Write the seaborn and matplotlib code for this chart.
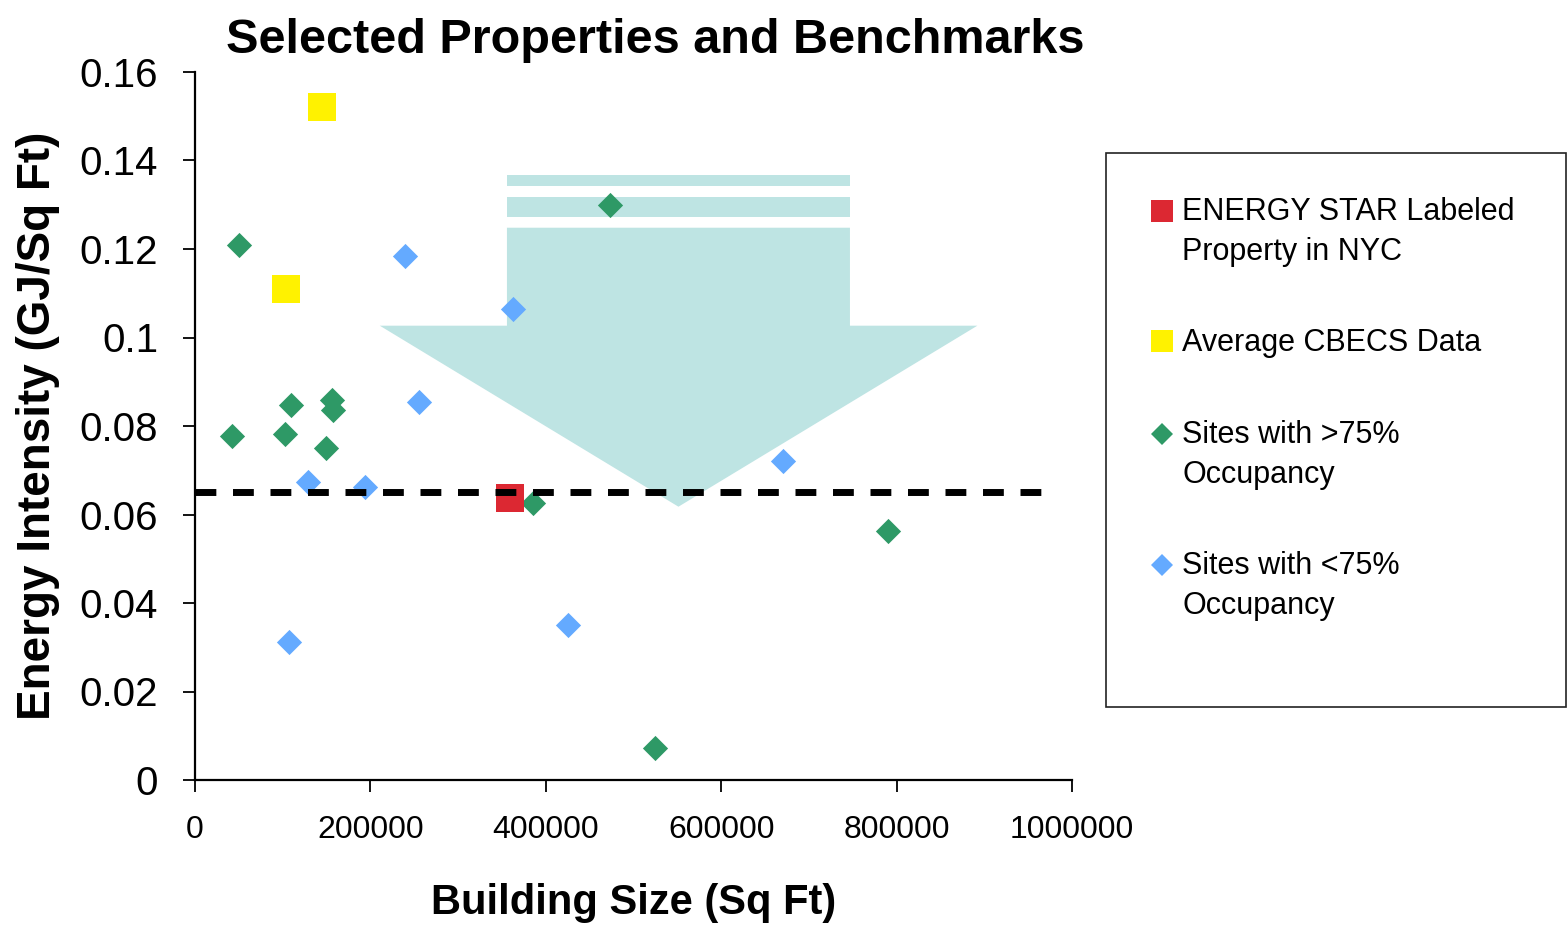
import numpy as np
import pandas as pd
import matplotlib
matplotlib.use("Agg")
import matplotlib.pyplot as plt
from matplotlib import font_manager as fm
from matplotlib.lines import Line2D
from matplotlib.patches import Polygon, Rectangle
from matplotlib.legend_handler import HandlerLine2D
import seaborn as sns

# ---------------------------------------------------------------- data
energy_star_size = [358800]
energy_star_intensity = [0.0637]

cbecs_size = [144300, 104000]
cbecs_intensity = [0.152, 0.1109]

high_occ_size = [50500, 473500, 109300, 155700, 156800, 41800, 102500,
                 149200, 385300, 789700, 524700]
high_occ_intensity = [0.1209, 0.1299, 0.0847, 0.0859, 0.0836, 0.0778, 0.0782,
                      0.0750, 0.0627, 0.0563, 0.0072]

low_occ_size = [239500, 362500, 255100, 129000, 194000, 107000, 425200, 670000]
low_occ_intensity = [0.1184, 0.1064, 0.0854, 0.0674, 0.0663, 0.0312, 0.0350,
                     0.0722]

benchmark_intensity = 0.065
benchmark_span = [0, 968000]

x_ticks = [0, 200000, 400000, 600000, 800000, 1000000]
x_tick_labels = ["0", "200000", "400000", "600000", "800000", "1000000"]
y_ticks = [0, 0.02, 0.04, 0.06, 0.08, 0.10, 0.12, 0.14, 0.16]
y_tick_labels = ["0", "0.02", "0.04", "0.06", "0.08", "0.1", "0.12", "0.14", "0.16"]

series_labels = ["ENERGY STAR Labeled\nProperty in NYC",
                 "Average CBECS Data",
                 "Sites with >75%\nOccupancy",
                 "Sites with <75%\nOccupancy"]

# ---------------------------------------------------------------- style
RED = "#DC2832"
YELLOW = "#FFF200"
GREEN = "#2E9966"
BLUE = "#64AAFF"
TEAL = "#BEE4E3"

sns.set_style("ticks")
installed = {f.name for f in fm.fontManager.ttflist}
BASE = "Liberation Sans" if "Liberation Sans" in installed else "DejaVu Sans"
NARROW = "Liberation Sans Narrow" if "Liberation Sans Narrow" in installed else BASE
plt.rcParams["font.family"] = [BASE, "DejaVu Sans"]
plt.rcParams["text.color"] = "black"
plt.rcParams["axes.labelcolor"] = "black"
plt.rcParams["xtick.color"] = "black"
plt.rcParams["ytick.color"] = "black"

W, H = 1568, 926
fig = plt.figure(figsize=(W / 100, H / 100), dpi=100)
ax = fig.add_axes([195 / W, 1 - 780 / H, 877 / W, 708 / H])
ax.set_facecolor("white")

# downward arrow behind the points (two bands above the shaft)
shaft_x = [355700, 746800]
head_x = [210700, 551250, 892100]
band_y = [(0.13431, 0.13672), (0.1273, 0.13182)]
shaft_top, head_base, head_tip = 0.12481, 0.10267, 0.06176
for y0, y1 in band_y:
    ax.add_patch(Rectangle((shaft_x[0], y0), shaft_x[1] - shaft_x[0], y1 - y0,
                           facecolor=TEAL, edgecolor="none", zorder=1))
ax.add_patch(Polygon([(shaft_x[0], shaft_top), (shaft_x[1], shaft_top),
                      (shaft_x[1], head_base), (head_x[2], head_base),
                      (head_x[1], head_tip), (head_x[0], head_base),
                      (shaft_x[0], head_base)],
                     closed=True, facecolor=TEAL, edgecolor="none", zorder=1))

# scatter series
diamond_s = 165
square_s = 430
sns.scatterplot(x=high_occ_size, y=high_occ_intensity, ax=ax, marker="D",
                s=diamond_s, color=GREEN, linewidth=0, zorder=3, legend=False)
sns.scatterplot(x=low_occ_size, y=low_occ_intensity, ax=ax, marker="D",
                s=diamond_s, color=BLUE, linewidth=0, zorder=3, legend=False)
sns.scatterplot(x=cbecs_size, y=cbecs_intensity, ax=ax, marker="s",
                s=square_s, color=YELLOW, linewidth=0, zorder=3, legend=False)
sns.scatterplot(x=energy_star_size, y=energy_star_intensity, ax=ax, marker="s",
                s=square_s, color=RED, linewidth=0, zorder=3, legend=False)

# benchmark line
ax.hlines(benchmark_intensity, benchmark_span[0], benchmark_span[1],
          colors="black", linewidth=5, linestyles=(0, (3.0, 2.4)), zorder=4)

# axes
ax.set_xlim(0, 1000000)
ax.set_ylim(0, 0.16)
ax.set_xticks(x_ticks)
ax.set_xticklabels(x_tick_labels, fontsize=27 if NARROW != BASE else 23,
                   family=[NARROW, "DejaVu Sans"])
ax.set_yticks(y_ticks)
ax.set_yticklabels(y_tick_labels, fontsize=29)
for side in ("top", "right"):
    ax.spines[side].set_visible(False)
for side in ("left", "bottom"):
    ax.spines[side].set_linewidth(1.6)
    ax.spines[side].set_color("black")
ax.tick_params(axis="both", direction="out", length=8.5, width=1.3,
               color="black", labelcolor="black")
ax.tick_params(axis="x", pad=17)
ax.tick_params(axis="y", pad=18)

ax.set_xlabel("Building Size (Sq Ft)", fontsize=30, fontweight="bold",
              labelpad=27, color="black")
ax.set_ylabel("Energy Intensity (GJ/Sq Ft)", fontsize=33, fontweight="bold",
              labelpad=14, color="black")
ax.set_title("Selected Properties and Benchmarks", fontsize=35,
             fontweight="bold", x=0.5245, pad=14, color="black")

# legend
class FirstLineMarker(HandlerLine2D):
    """Places the legend marker beside the first line of a two-line label."""

    def __init__(self, lift=0.0, **kw):
        super().__init__(**kw)
        self.lift = lift

    def create_artists(self, legend, orig_handle, xdescent, ydescent, width,
                       height, fontsize, trans):
        artists = super().create_artists(legend, orig_handle, xdescent, ydescent,
                                         width, height, fontsize, trans)
        for a in artists:
            a.set_ydata(np.asarray(a.get_ydata(), dtype=float) + self.lift * fontsize)
        return artists


leg_fs = 22
handles = [
    Line2D([], [], linestyle="none", marker="s", markersize=16,
           markerfacecolor=RED, markeredgewidth=0),
    Line2D([], [], linestyle="none", marker="s", markersize=16,
           markerfacecolor=YELLOW, markeredgewidth=0),
    Line2D([], [], linestyle="none", marker="D", markersize=11,
           markerfacecolor=GREEN, markeredgewidth=0),
    Line2D([], [], linestyle="none", marker="D", markersize=11,
           markerfacecolor=BLUE, markeredgewidth=0),
]
handler_map = {h: FirstLineMarker(lift=(0.72 if "\n" in lab else 0.0))
               for h, lab in zip(handles, series_labels)}
leg = fig.legend(handles, series_labels, loc="upper left",
                 bbox_to_anchor=(1150 / W, 1 - 197 / H),
                 frameon=False, fontsize=leg_fs, borderpad=0, borderaxespad=0,
                 handlelength=0.8, handletextpad=0.25, labelspacing=2.0,
                 numpoints=1, handler_map=handler_map)
for t in leg.get_texts():
    t.set_linespacing(1.45)
    t.set_color("black")

fig.patches.append(Rectangle((1106 / W, 1 - 707 / H), (1566 - 1106) / W,
                             (707 - 153) / H, transform=fig.transFigure,
                             fill=False, edgecolor="#222222", linewidth=1.2))

fig.savefig("out.png", dpi=100, facecolor="white")
